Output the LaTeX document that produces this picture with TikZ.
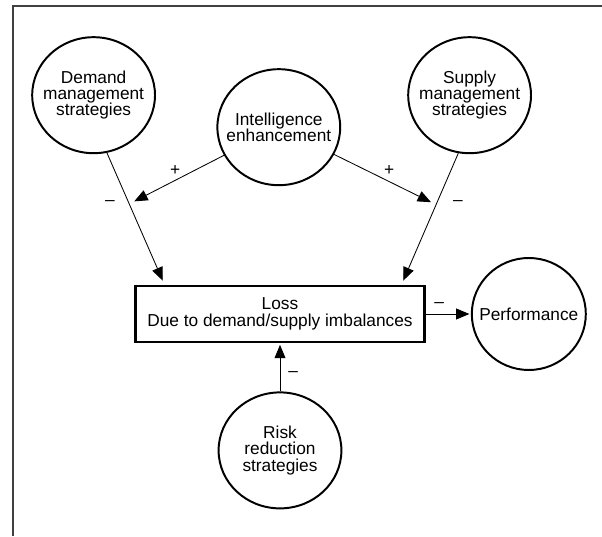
\documentclass[tikz,border=0pt]{standalone}
\usepackage{fontspec}
\setmainfont{Liberation Sans}
\usetikzlibrary{arrows.meta,shapes.geometric}

\begin{document}
\begin{tikzpicture}
[->,>={Triangle[length=9.5pt,width=7.8pt]},
			shorten >=1pt, semithick,
			font=\fontsize{12.3}{11.6}\selectfont,
			circ/.style={ellipse,draw,line width=1.4pt,align=center,
				inner xsep=-0.35cm,inner ysep=0pt,
				minimum width=3.07cm,minimum height=2.9cm},
			sgn/.style={inner sep=0pt}]
\useasboundingbox (0,0) rectangle (15.05,13.4);
\draw[-,shorten >=0pt,line width=1.3pt,black!75] (0.325,0) -- (0.325,13.26) -- (15.05,13.26);

\node (dms) at (2.34,11.02)[circ] {Demand\\management\\strategies};
\node (sms) at (11.74,11.02)[circ] {Supply\\management\\strategies};
\node (ie) at (6.97,10.22)[circ] {Intelligence\\enhancement};
\node (loss) at (7,5.55)[rectangle,draw,line width=1.5pt,minimum width=7.225cm,
	minimum height=1.42cm,align=center] {Loss\\Due to demand/supply imbalances};
\node (perf) at (13.22,5.55)[circ,minimum width=2.85cm,minimum height=2.8cm] {Performance};
\node (rrs) at (7,2.14)[circ] {Risk\\reduction\\strategies};

% strategies into the loss box
\draw[shorten >=3pt] (dms.-77) -- coordinate[pos=0.388] (dl)
	node[sgn,pos=0.366,xshift=-0.45cm,yshift=-0.05cm] {--} ([xshift=0.75cm]loss.north west);
\draw[shorten >=3pt] (sms.-101) -- coordinate[pos=0.392] (dr)
	node[sgn,pos=0.366,xshift=0.51cm,yshift=-0.05cm] {--} ([xshift=-0.6cm]loss.north east);

\draw[shorten >=4pt] (ie) -- node[sgn,pos=0.514,yshift=0.24cm] {+} (dl);
\draw[shorten >=4pt] (ie) -- node[sgn,pos=0.539,yshift=0.27cm] {+} (dr);

\draw (loss) -- node[sgn,pos=0.3,yshift=0.22cm] {--} (perf);
\draw (rrs) -- node[sgn,pos=0.4,xshift=0.33cm,yshift=-0.05cm] {--} (loss);

\end{tikzpicture}
\end{document}
